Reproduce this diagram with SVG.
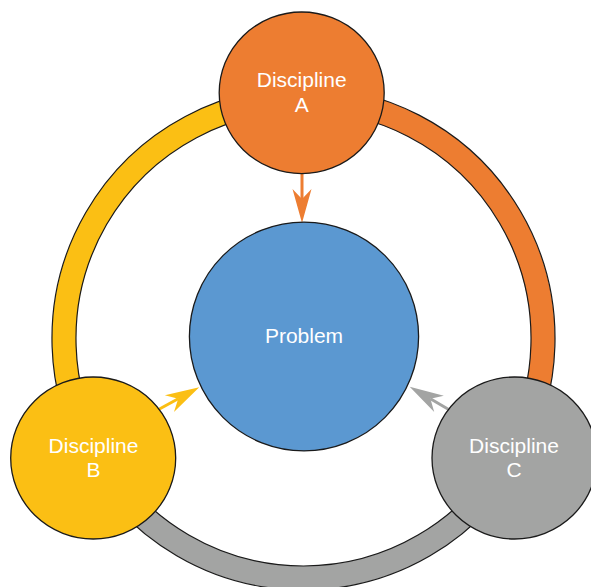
<svg xmlns="http://www.w3.org/2000/svg" width="591" height="587" viewBox="0 0 591 587">
<style>
.band{stroke:#1a1a1a;stroke-width:1.2;}
.node{stroke:#1a1a1a;stroke-width:1.3;}
.lbl{font-family:"Liberation Sans",Arial,Helvetica,sans-serif;font-size:21px;fill:#ffffff;text-anchor:middle;}
.conn{stroke-width:3;fill:none;}
</style>
<defs>
<marker id="hO" markerUnits="userSpaceOnUse" markerWidth="40" markerHeight="24" refX="-24" refY="0" orient="auto" overflow="visible"><path d="M0,0 L-34,-9.5 L-24,0 L-34,9.5 Z" fill="#ED7D31"/></marker>
<marker id="hY" markerUnits="userSpaceOnUse" markerWidth="40" markerHeight="24" refX="-24" refY="0" orient="auto" overflow="visible"><path d="M0,0 L-34,-9.5 L-24,0 L-34,9.5 Z" fill="#FBBF14"/></marker>
<marker id="hG" markerUnits="userSpaceOnUse" markerWidth="40" markerHeight="24" refX="-24" refY="0" orient="auto" overflow="visible"><path d="M0,0 L-34,-9.5 L-24,0 L-34,9.5 Z" fill="#A3A4A3"/></marker>
</defs>
<g id="ring">
<path class="band" fill="#ED7D31" d="M301.66,87 A251.5,251.5 0 0 1 522.33,462.46 L501.45,450.63 A227.5,227.5 0 0 0 301.83,111 Z"/>
<path class="band" fill="#A3A4A3" d="M522.33,462.46 A251.5,251.5 0 0 1 84.54,462.26 L105.44,450.45 A227.5,227.5 0 0 0 501.45,450.63 Z"/>
<path class="band" fill="#FBBF14" d="M84.54,462.26 A251.5,251.5 0 0 1 301.66,87 L301.83,111 A227.5,227.5 0 0 0 105.44,450.45 Z"/>
</g>
<g id="connectors">
<line class="conn" stroke="#ED7D31" x1="302" y1="172" x2="302" y2="199" marker-end="url(#hO)"/>
<line class="conn" stroke="#FBBF14" x1="159" y1="409.3" x2="178.2" y2="398.8" marker-end="url(#hY)"/>
<line class="conn" stroke="#A3A4A3" x1="448.3" y1="409.3" x2="430.4" y2="398.8" marker-end="url(#hG)"/>
</g>
<g id="problem">
<ellipse class="node" cx="304" cy="336.5" rx="114.6" ry="114.4" fill="#5B98D1"/>
<text class="lbl" x="304" y="343.3">Problem</text>
</g>
<g id="disciplineA">
<ellipse class="node" cx="301.7" cy="92.8" rx="82.5" ry="80.8" fill="#ED7D31"/>
<text class="lbl" x="301.7" y="87">Discipline</text>
<text class="lbl" x="301.7" y="112">A</text>
</g>
<g id="disciplineB">
<ellipse class="node" cx="93.2" cy="458" rx="82.5" ry="81" fill="#FBBF14"/>
<text class="lbl" x="93.5" y="452.7">Discipline</text>
<text class="lbl" x="93.5" y="477.3">B</text>
</g>
<g id="disciplineC">
<ellipse class="node" cx="514.5" cy="458" rx="82.5" ry="81" fill="#A3A4A3"/>
<text class="lbl" x="514" y="452.7">Discipline</text>
<text class="lbl" x="514" y="477.3">C</text>
</g>
</svg>
